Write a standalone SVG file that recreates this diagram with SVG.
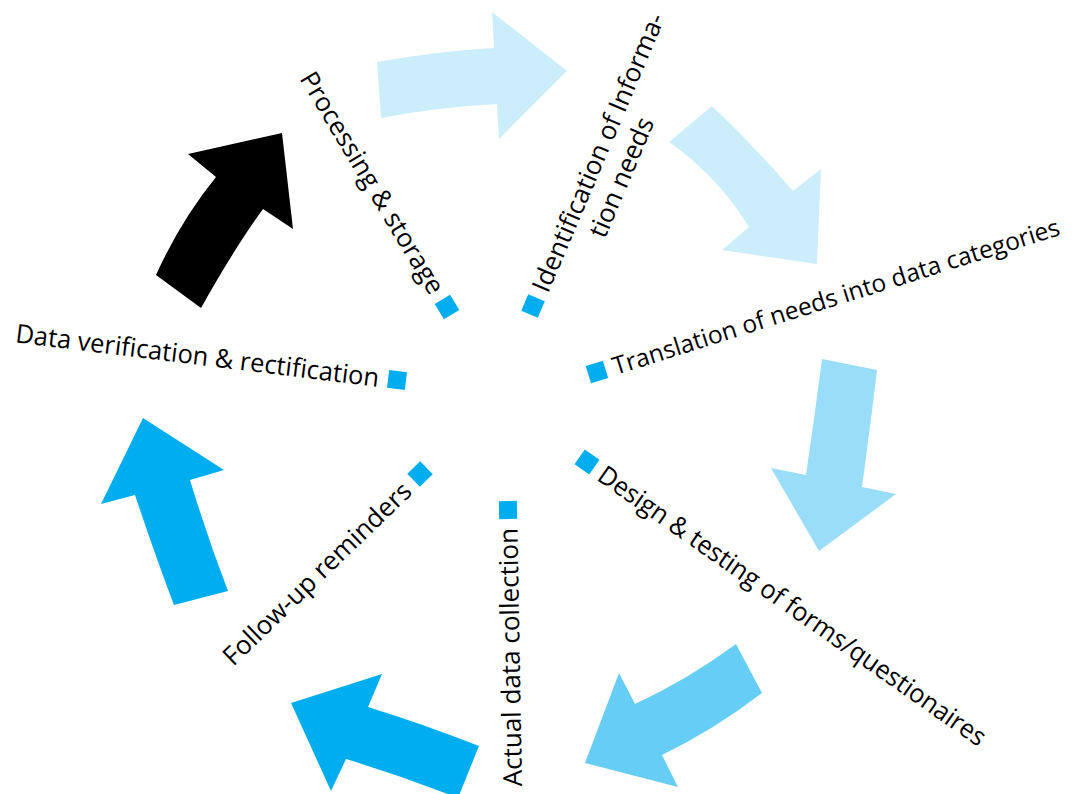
<svg xmlns="http://www.w3.org/2000/svg" width="1083" height="794" viewBox="0 0 1083 794">
  <style>
    .lbl { font-family: "Open Sans", "Noto Sans", "Liberation Sans", sans-serif; font-size: 26px; fill: #000; }
    .sq { fill: #00AEEF; }
    .c20 { fill: #CCEEFB; }
    .c40 { fill: #99DDF8; }
    .c60 { fill: #66CEF5; }
    .c100 { fill: #00AEEF; }
    .cblk { fill: #000000; }
  </style>
  <rect width="1083" height="794" fill="#ffffff"/>
  <g id="connectors">
    <path id="arrow-1" class="c20" d="M377,62 Q438,51 494,48 L492,12 L567,71 L499,139 L497,104 Q439,107 381,118 Z"/>
    <path id="arrow-2" class="c20" d="M712,106 Q753.5,145 793,191 L821,169 L817,264 L722,250 L749,227 Q717,175.5 669,142 Z"/>
    <path id="arrow-3" class="c40" d="M822,359 L877,370 Q870.5,425 862,487 L896,494 L819,551 L771,468 L806,475 Q814.6,416 822,359 Z"/>
    <path id="arrow-4" class="c60" d="M736,644 L762,693 Q714.6,729.4 662,755 L678,787 L585,763 L619,673 L635,704 Q688,679.4 736,644 Z"/>
    <path id="arrow-5" class="c100" d="M479,746 Q423,724 368,707 L382,674 L291,703 L331,791 L346,759 Q402,776 458,798 Z"/>
    <path id="arrow-6" class="c100" d="M174,605 L228,591 Q207.6,538 190,480 L224,470 L143,418 L101,504 L135,495 Q155.5,556.6 174,605 Z"/>
    <path id="arrow-7" class="cblk" d="M156,275 L201,308 Q234.6,248 263,209 L293,229 L282,133 L188,154 L216,177 Q180.6,220.6 156,275 Z"/>
  </g>
  <g id="node-identification" transform="translate(533,306) rotate(-67)">
    <rect class="sq" x="-9" y="-9" width="18" height="18"/>
    <text class="lbl" x="17" y="0" dy="0.35em" textLength="300" lengthAdjust="spacingAndGlyphs">Identification of Informa-</text>
    <text class="lbl" x="153" y="31" dy="0.35em" text-anchor="middle">tion needs</text>
  </g>
  <g id="node-translation" transform="translate(597,372) rotate(-17.5)">
    <rect class="sq" x="-9" y="-9" width="18" height="18"/>
    <text class="lbl" x="17" y="0" dy="0.35em" style="font-size:24.6px">Translation of needs into data categories</text>
  </g>
  <g id="node-design" transform="translate(587,462) rotate(35)">
    <rect class="sq" x="-9" y="-9" width="18" height="18"/>
    <text class="lbl" x="17" y="0" dy="0.35em" textLength="467" lengthAdjust="spacingAndGlyphs">Design &amp; testing of forms/questionaires</text>
  </g>
  <g id="node-actual" transform="translate(508,510) rotate(-91)">
    <rect class="sq" x="-9" y="-9" width="18" height="18"/>
    <text class="lbl" x="-18" y="0" dy="0.35em" text-anchor="end">Actual data collection</text>
  </g>
  <g id="node-followup" transform="translate(420,474) rotate(-44)">
    <rect class="sq" x="-9" y="-9" width="18" height="18"/>
    <text class="lbl" x="-18" y="0" dy="0.35em" text-anchor="end">Follow-up reminders</text>
  </g>
  <g id="node-verification" transform="translate(397,380) rotate(7)">
    <rect class="sq" x="-9" y="-9" width="18" height="18"/>
    <text class="lbl" x="-18" y="0" dy="0.35em" text-anchor="end" textLength="366" lengthAdjust="spacingAndGlyphs">Data verification &amp; rectification</text>
  </g>
  <g id="node-processing" transform="translate(447,307) rotate(59)">
    <rect class="sq" x="-9" y="-9" width="18" height="18"/>
    <text class="lbl" x="-18" y="0" dy="0.35em" text-anchor="end" textLength="254" lengthAdjust="spacingAndGlyphs">Processing &amp; storage</text>
  </g>
</svg>
